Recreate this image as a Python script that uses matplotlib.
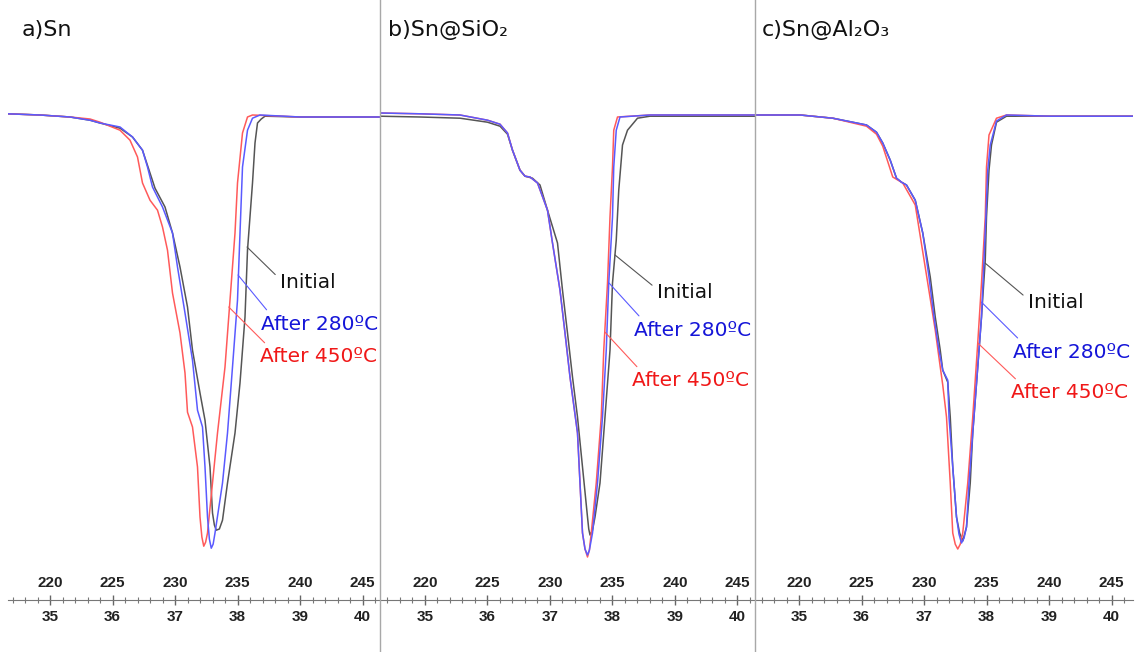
import matplotlib.pyplot as plt
from matplotlib.lines import Line2D
from matplotlib.ticker import MultipleLocator

# ---- data (temperature in degC, heat flow in a.u.) ----
titles = ['a)Sn', 'b)Sn@SiO\u2082', 'c)Sn@Al\u2082O\u2083']
temp_ticks = [220, 225, 230, 235, 240, 245]
time_ticks = [35, 36, 37, 38, 39, 40]
series_names = ['Initial', 'After 280\u00baC', 'After 450\u00baC']

# a) Sn
temp_a_initial = [216.6, 219.2, 221.6, 223.2, 224.0, 225.6, 226.6, 227.4, 228.0, 228.4, 229.2, 229.8, 230.4,
                  231.0, 231.4, 232.0, 232.4, 232.8, 233.0, 233.15, 233.3, 233.55, 233.8, 234.2, 234.8, 235.2,
                  235.6, 235.8, 236.2, 236.4, 236.6, 236.9, 237.2, 240.0, 243.2, 246.4]
flow_a_initial = [0.3, 0, -0.5, -1.3, -2.0, -3.3, -5.5, -8.8, -14.5, -18.3, -23, -29.5, -38,
                  -48, -58.8, -69.5, -76.3, -88, -99.5, -102.5, -103.8, -103.5, -101.3, -92, -79.5, -67,
                  -50.5, -33.8, -17, -7, -2, -1.0, -0.3, -0.5, -0.5, -0.5]
temp_a_280 = [216.6, 219.2, 221.6, 223.2, 224.0, 225.6, 226.6, 227.4, 227.8, 228.2, 229.0, 229.8, 230.2,
              230.8, 231.4, 231.8, 232.2, 232.4, 232.6, 232.75, 232.9, 233.05, 233.2, 233.8, 234.2, 234.6,
              235.0, 235.2, 235.4, 235.8, 236.2, 236.8, 240.0, 243.2, 246.4]
flow_a_280 = [0.3, 0, -0.5, -1.3, -2.0, -3.0, -5.5, -8.8, -13, -18, -23, -29.5, -38,
              -49.5, -61.3, -73.8, -78, -88, -100.5, -106, -108.3, -107.3, -104.5, -92, -79.5, -63,
              -46.3, -29.5, -13, -3.8, -0.8, 0, -0.5, -0.5, -0.5]
temp_a_450 = [216.6, 219.2, 221.6, 223.2, 224.0, 225.6, 226.4, 227.0, 227.4, 228.0, 228.6, 229.0, 229.4,
              229.8, 230.4, 230.8, 231.0, 231.4, 231.8, 232.0, 232.15, 232.3, 232.45, 232.6, 233.0, 233.4,
              234.0, 234.4, 234.8, 235.0, 235.4, 235.8, 236.2, 240.0, 243.2, 246.4]
flow_a_450 = [0.3, 0, -0.5, -1.0, -1.8, -3.8, -6.3, -10.5, -17, -21.3, -23.8, -28, -33.8,
              -44.5, -54.5, -64.5, -74.3, -78, -88, -100.5, -105.5, -107.8, -106.8, -104.5, -92, -79.5,
              -63, -46.3, -29.5, -17, -4.5, -0.5, 0, -0.5, -0.5, -0.5]

# b) Sn@SiO2
temp_b_initial = [216.4, 219.6, 222.8, 225.0, 226.0, 226.6, 227.0, 227.6, 228.0, 228.6, 229.2, 229.8, 230.6,
                  231.0, 231.4, 231.8, 232.2, 232.6, 233.0, 233.1, 233.2, 233.4, 233.6, 234.0, 234.4, 234.8,
                  235.0, 235.3, 235.5, 235.7, 235.8, 236.2, 237.0, 238.0, 242.0, 246.4]
flow_b_initial = [-0.3, -0.5, -0.8, -1.8, -2.8, -4.8, -8.8, -13.8, -15.3, -15.8, -17.5, -23.8, -32,
                  -43.8, -54.5, -65.5, -75.5, -88, -100.5, -103.5, -105, -103.8, -100.5, -92, -75.5, -58.8,
                  -42, -31.3, -18.8, -11.3, -7.5, -3.8, -0.8, -0.3, -0.3, -0.3]
temp_b_280 = [216.4, 219.6, 222.8, 225.0, 226.0, 226.6, 227.0, 227.6, 228.0, 228.4, 229.0, 229.8, 230.2,
              230.8, 231.2, 231.6, 232.2, 232.4, 232.6, 232.8, 233.0, 233.15, 233.4, 233.8, 234.2, 234.5,
              234.7, 235.0, 235.1, 235.3, 235.6, 238.0, 242.0, 246.4]
flow_b_280 = [0.5, 0.3, 0, -1.3, -2.3, -4.5, -8.8, -13.8, -15.3, -15.5, -17, -23.8, -32,
              -43.8, -54.5, -65.5, -79.5, -92, -104.5, -108.5, -110, -108.8, -104.5, -92, -75.5, -58.8,
              -42, -25.5, -13, -3.8, -0.5, 0, 0, 0]
temp_b_450 = [216.4, 219.6, 222.8, 225.0, 226.0, 226.6, 227.0, 227.6, 228.0, 228.4, 229.0, 229.8, 230.2,
              230.8, 231.2, 231.6, 232.2, 232.4, 232.6, 232.8, 233.0, 233.15, 233.3, 233.7, 234.1, 234.3,
              234.6, 234.8, 235.0, 235.1, 235.4, 238.0, 242.0, 246.4]
flow_b_450 = [0.5, 0.3, 0, -1.3, -2.3, -4.5, -8.8, -13.8, -15.3, -15.5, -17, -23.8, -32,
              -43.8, -54.5, -65.5, -79.5, -92, -104.5, -108.5, -110.5, -108.8, -104.5, -92, -75.5, -58.8,
              -42, -25.5, -13, -3.8, -0.5, 0, 0, 0]

# c) Sn@Al2O3
temp_c_initial = [216.5, 220.1, 222.7, 225.4, 226.2, 226.7, 227.3, 227.8, 228.2, 228.6, 229.3, 229.9, 230.5,
                  230.9, 231.3, 231.5, 231.9, 232.1, 232.3, 232.6, 232.85, 233.1, 233.4, 233.7, 233.9, 234.3,
                  234.6, 234.9, 235.0, 235.2, 235.4, 235.8, 236.6, 240.1, 247.0]
flow_c_initial = [0, 0, -0.8, -2.5, -4.3, -7, -11.3, -15.8, -16.8, -17.5, -21.3, -29.5, -40.5,
                  -50.5, -58.8, -63.8, -66.8, -75.5, -88, -100.5, -104.5, -106.5, -103, -92, -79.5, -63,
                  -50.5, -36.3, -25.5, -13.8, -7.5, -1.8, -0.3, -0.3, -0.3]
temp_c_280 = [216.5, 220.1, 222.7, 225.4, 226.2, 226.7, 227.3, 227.8, 228.2, 228.6, 229.3, 229.9, 230.4,
              230.8, 231.2, 231.5, 231.9, 232.0, 232.3, 232.6, 232.8, 233.0, 233.2, 233.4, 233.6, 233.9,
              234.3, 234.6, 234.8, 234.95, 235.1, 235.3, 235.8, 236.6, 240.1, 247.0]
flow_c_280 = [0, 0, -0.8, -2.5, -4.3, -7, -11.3, -15.8, -16.8, -17.5, -21.3, -29.5, -40.5,
              -50.5, -58.8, -63.8, -66.3, -75.5, -88, -100.5, -104.8, -107, -105.8, -103, -92, -79.5,
              -63, -50.5, -36.3, -25.5, -13.8, -7.5, -1.5, 0, -0.3, -0.3]
temp_c_450 = [216.5, 220.1, 222.7, 225.4, 226.2, 226.7, 227.5, 228.3, 229.3, 230.3, 230.9, 231.3, 231.5,
              231.8, 232.1, 232.3, 232.5, 232.7, 232.9, 233.1, 233.5, 233.9, 234.3, 234.6, 234.9, 235.0,
              235.2, 235.8, 236.6, 240.1, 247.0]
flow_c_450 = [0, 0, -0.8, -2.8, -4.8, -7.8, -15.5, -17, -22.5, -42, -53.8, -63, -67.5,
              -75.5, -92, -104.5, -107.3, -108.5, -107.3, -104.5, -92, -75.5, -57, -42, -25.5, -13,
              -5, -0.8, 0, -0.3, -0.3]

# label anchors: (temp on curve, flow on curve, temp of text, flow of text)
labels_a = [(235.76, -33, 238.4, -42.0), (235.04, -40, 236.9, -52.3), (234.3, -48, 236.8, -60.5)]
labels_b = [(235.2, -35, 238.56, -44.5), (234.72, -42, 236.72, -53.8), (234.4, -54.3, 236.56, -66.5)]
labels_c = [(234.88, -37, 238.32, -47.0), (234.6, -46.8, 237.12, -59.3), (234.3, -57, 236.96, -69.5)]

# ---- layout (pixels of the 1137x652 picture) ----
W, H = 1137, 652
PX_PER_C = 12.5
AXIS_Y = 600
BASE_Y = 115
PX_PER_UNIT = 4.0

panels = [
    (8, 380, 50, (temp_a_initial, flow_a_initial), (temp_a_280, flow_a_280), (temp_a_450, flow_a_450), labels_a),
    (380, 755, 425, (temp_b_initial, flow_b_initial), (temp_b_280, flow_b_280), (temp_b_450, flow_b_450), labels_b),
    (755, 1133, 799, (temp_c_initial, flow_c_initial), (temp_c_280, flow_c_280), (temp_c_450, flow_c_450), labels_c),
]
title_x = [22, 388, 762]

line_colors = ['#555555', '#5a5aff', '#ff5a5a']
text_colors = ['#111111', '#1515d8', '#f01818']


def to_min(t):
    return 35 + (t - 220) / 5.0


def to_temp(m):
    return 220 + (m - 35) * 5.0


fig = plt.figure(figsize=(W / 100, H / 100), dpi=100)

for i, (left, right, x220, s_init, s_280, s_450, labels) in enumerate(panels):
    ax = fig.add_axes([left / W, (H - AXIS_Y) / H, (right - left) / W, AXIS_Y / H])
    ax.set_xlim(220 - (x220 - left) / PX_PER_C, 220 + (right - x220) / PX_PER_C)
    ax.set_ylim(-(AXIS_Y - BASE_Y) / PX_PER_UNIT, BASE_Y / PX_PER_UNIT)
    ax.patch.set_alpha(0)

    for (tx, fy), c in zip([s_init, s_450, s_280], [line_colors[0], line_colors[2], line_colors[1]]):
        ax.plot(tx, fy, color=c, lw=1.1, solid_joinstyle='round')

    for (cx, cy, lx, ly), name, lc, tc in zip(labels, series_names, line_colors, text_colors):
        rp = (0, 0.7) if name == 'Initial' else (0.08, 1.0)
        ax.annotate(name, xy=(cx, cy), xytext=(lx, ly), ha='left', va='center',
                    fontsize=14.5, color=tc,
                    arrowprops=dict(arrowstyle='-', color=lc, lw=0.8, relpos=rp,
                                    shrinkA=2, shrinkB=0))

    # axis line with minor ticks every degree
    for s in ['top', 'left', 'right']:
        ax.spines[s].set_visible(False)
    ax.spines['bottom'].set_color('#777777')
    ax.set_yticks([])
    ax.xaxis.set_major_locator(MultipleLocator(5))
    ax.xaxis.set_minor_locator(MultipleLocator(1))
    ax.tick_params(axis='x', which='major', direction='inout', length=7, width=1,
                   color='#666666', labelbottom=False)
    ax.tick_params(axis='x', which='minor', direction='inout', length=4, width=0.8,
                   color='#777777')

    # temperature labels above the line
    sec_temp = ax.secondary_xaxis(0)
    sec_temp.set_alignment('top')
    sec_temp.set_xticks(temp_ticks, labels=[str(t) for t in temp_ticks],
                        fontsize=11, fontweight='bold', family='Liberation Sans', color='#222222')
    sec_temp.tick_params(axis='x', length=0, pad=7)
    for s in sec_temp.spines.values():
        s.set_visible(False)

    # time labels below the line
    sec_time = ax.secondary_xaxis(0, functions=(to_min, to_temp))
    sec_time.set_xticks(time_ticks, labels=[str(t) for t in time_ticks],
                        fontsize=11, fontweight='bold', family='Liberation Sans', color='#222222')
    sec_time.tick_params(axis='x', length=0, pad=7)
    for s in sec_time.spines.values():
        s.set_visible(False)

    fig.text(title_x[i] / W, 1 - 30 / H, titles[i], fontsize=16, va='center', ha='left', color='#111111')

# panel separators
for x in [380, 755]:
    fig.add_artist(Line2D([x / W, x / W], [0, 1], color='#a8a8a8', lw=1))

fig.savefig('out.png', dpi=100)
